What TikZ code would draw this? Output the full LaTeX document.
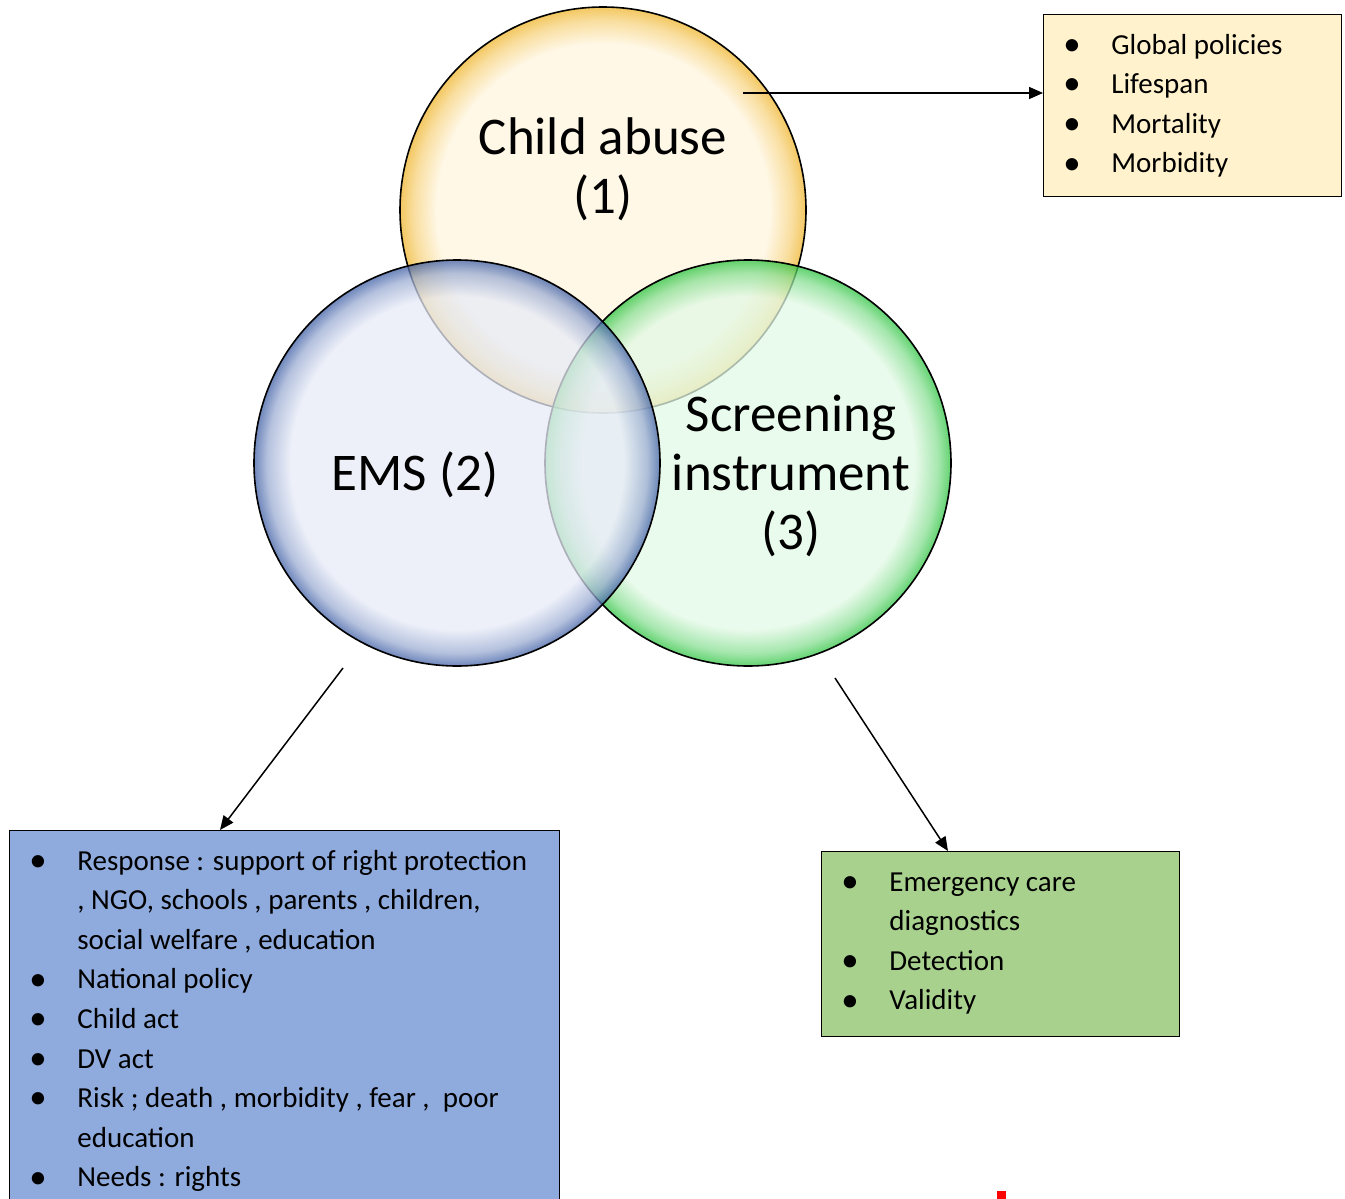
\documentclass[tikz,border=0pt]{standalone}
\usepackage{fontspec}
\setmainfont{Carlito}
\usetikzlibrary{arrows.meta,calc,positioning}
%%% colours of the three circles and of the three boxes
\definecolor{yin}{HTML}{FFF5DE}
\definecolor{yrim}{HTML}{EFB52C}
\definecolor{bin}{HTML}{E7EBF7}
\definecolor{brim}{HTML}{3F5FA5}
\definecolor{gin}{HTML}{E2F9E5}
\definecolor{grim}{HTML}{2EC441}
\definecolor{ybox}{HTML}{FFF2CC}
\definecolor{bbox}{HTML}{8FAADC}
\definecolor{gbox}{HTML}{A9D18E}
\pgfdeclareradialshading{yglass}{\pgfpoint{0bp}{0bp}}{color(0bp)=(yin); color(20.5bp)=(yin); color(23.4bp)=(yrim!55!yin); color(25bp)=(yrim); color(50bp)=(yrim)}
\pgfdeclareradialshading{bglass}{\pgfpoint{0bp}{0bp}}{color(0bp)=(bin); color(20.5bp)=(bin); color(23.4bp)=(brim!45!bin); color(25bp)=(brim); color(50bp)=(brim)}
\pgfdeclareradialshading{gglass}{\pgfpoint{0bp}{0bp}}{color(0bp)=(gin); color(20.5bp)=(gin); color(23.4bp)=(grim!50!gin); color(25bp)=(grim); color(50bp)=(grim)}
\newcommand{\dotitem}{\raisebox{-0.6pt}{\scalebox{1.2}{\textbullet}}}
\tikzset{
  venn/.style={circle, draw=black, line width=0.8pt, minimum size=203pt, inner sep=0pt, fill opacity=0.75},
  vennlabel/.style={align=center, inner sep=0pt, font=\fontsize{26.5pt}{29.5pt}\selectfont},
  listbox/.style={draw=black, line width=0.5pt, anchor=north west, inner sep=0pt},
  listtext/.style={anchor=north west, inner sep=0pt, align=left, font=\fontsize{14.5pt}{19.8pt}\selectfont},
  link/.style={line width=0.75pt, -{Triangle[length=7pt,width=6pt]}}
}
\begin{document}
\begin{tikzpicture}[x=0.5pt,y=-0.5pt]
\useasboundingbox (0,0) rectangle (1345,1199);
%%% The three overlapping circles
\node[venn, shading=yglass] (cab) at (603,210) {};
\node[venn, shading=gglass] (scr) at (748,463) {};
\node[venn, shading=bglass] (ems) at (457,463) {};
%%% The labels of the circles
\node[vennlabel] (cabt) at (603,169) {Child abuse\\(1)};
\node[vennlabel] (emst) at (415,475) {EMS (2)};
\node[vennlabel] (scrt) at (791,476) {Screening\\instrument\\(3)};
%%%%% The box of child abuse (1)
\node[listbox, fill=ybox, minimum width=149pt, minimum height=91pt] (pbox) at (1043,14) {};
\node[listtext] (ptxt) at ($(pbox.north west)+(20,12)$) {%
\begin{tabular}{@{}p{24pt}@{}l@{}}
\dotitem & Global policies\\
\dotitem & Lifespan\\
\dotitem & Mortality\\
\dotitem & Morbidity
\end{tabular}};
%%%%% The box of EMS (2)
\node[listbox, fill=bbox, minimum width=275pt, minimum height=200pt] (ebox) at (9,830) {};
\node[listtext] (etxt) at ($(ebox.north west)+(20,12)$) {%
\begin{tabular}{@{}p{24pt}@{}l@{}}
\dotitem & Response : support of right protection\\
 & , NGO, schools , parents , children,\\
 & social welfare , education\\
\dotitem & National policy\\
\dotitem & Child act\\
\dotitem & DV act\\
\dotitem & Risk ; death , morbidity , fear ,~ poor\\
 & education\\
\dotitem & Needs : rights
\end{tabular}};
%%%%% The box of screening instrument (3)
\node[listbox, fill=gbox, minimum width=179pt, minimum height=92.5pt] (sbox) at (821,851) {};
\node[listtext] (stxt) at ($(sbox.north west)+(20,12)$) {%
\begin{tabular}{@{}p{24pt}@{}l@{}}
\dotitem & Emergency care\\
 & diagnostics\\
\dotitem & Detection\\
\dotitem & Validity
\end{tabular}};
%%%%% The arrows from the circles to their boxes
\coordinate (p0) at (743,93);
\coordinate (e0) at (343,668);
\coordinate (s0) at (835,678);
\draw[link] (p0) -- (p0 -| pbox.west);
\draw[link] (e0) -- ($(ebox.north west)+(211,0)$);
\draw[link] (s0) -- ($(sbox.north west)+(127,0)$);
%%% red mark at the bottom edge
\fill[red] (997,1191) rectangle (1006,1199);
\end{tikzpicture}
\end{document}
